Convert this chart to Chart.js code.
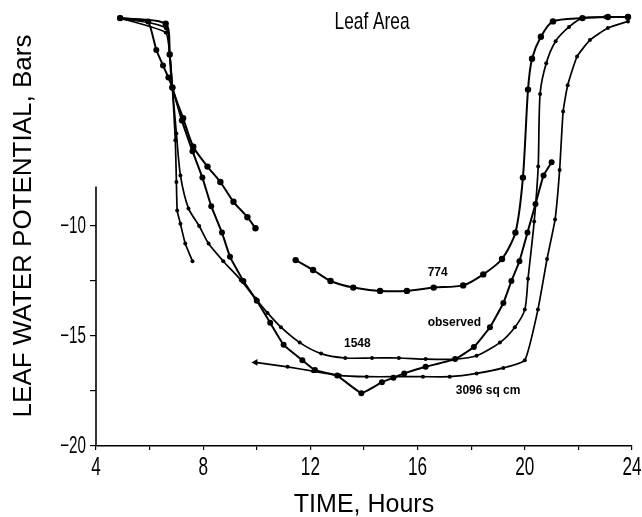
<!DOCTYPE html>
<html>
<head>
<meta charset="utf-8">
<script src="https://cdn.jsdelivr.net/npm/chart.js@4.4.1/dist/chart.umd.min.js"></script>
<style>
  html, body { margin: 0; padding: 0; background: #fff; }
  #wrap { width: 642px; height: 517px; position: relative; }
</style>
</head>
<body>
<div id="wrap"><canvas id="c"></canvas></div>
<script>
// ---- Data ----
const t774 = [4.9, 6.6, 6.75, 6.85, 7.25, 7.63, 8.16, 8.64, 9.13, 9.65, 9.95, 10.7, 11.45, 12.1, 12.75, 13.6, 14.6, 15.6, 16.6, 17.7, 18.45, 19.15, 19.65, 19.93, 20.12, 20.27, 20.6, 21.05, 22.15, 23.1, 23.85];
const v774 = [-0.55, -0.8, -2.2, -3.7, -5.1, -6.4, -7.3, -8.0, -8.9, -9.6, -10.1, null, -11.55, -12.0, -12.5, -12.8, -12.95, -12.95, -12.8, -12.7, -12.2, -11.5, -10.3, -7.8, -3.8, -2.4, -1.4, -0.7, -0.55, -0.5, -0.5];

const t1548 = [4.9, 6.6, 6.75, 6.85, 7.0, 7.15, 7.45, 7.85, 8.2, 8.75, 9.4, 9.95, 10.4, 10.9, 11.6, 12.4, 13.3, 14.3, 15.3, 16.3, 17.4, 18.2, 19.07, 19.63, 20.0, 20.12, 20.35, 20.5, 20.57, 20.8, 21.15, 21.65, 22.15, 23.0, 23.85];
const v1548 = [-0.55, -1.0, -2.2, -3.7, -5.8, -7.7, -9.2, -10.0, -10.8, -11.6, -12.45, -13.3, -13.95, -14.6, -15.3, -15.8, -16.0, -16.0, -16.0, -16.05, -16.05, -15.9, -15.3, -14.6, -13.8, -12.4, -9.8, -7.3, -4.0, -2.6, -1.6, -0.95, -0.55, -0.5, -0.5];

const t3096 = [4.9, 6.6, 6.75, 6.85, 6.96, 7.0, 7.03, 7.15, 7.33, 7.6, 8.5, 9.95, 11.15, 12.1, 13.1, 14.1, 15.1, 16.2, 17.2, 18.2, 19.2, 20.0, 20.49, 20.83, 21.13, 21.3, 21.43, 21.6, 21.95, 22.43, 23.1, 23.85];
const v3096 = [-0.55, -1.2, -2.2, -3.7, -6.1, -8.0, -9.3, -9.9, -10.8, -11.6, null, -16.2, -16.4, -16.6, -16.8, -16.85, -16.85, -16.85, -16.85, -16.7, -16.45, -16.1, -13.8, -11.5, -9.7, -7.45, -4.8, -3.6, -2.3, -1.55, -1.0, -0.7];

const tObs = [4.9, 5.95, 6.25, 6.5, 6.7, 6.85, 7.2, 7.6, 7.97, 8.3, 8.7, 9.0, 9.5, 10.0, 10.5, 11.0, 11.7, 12.17, 13.0, 13.9, 14.67, 15.1, 15.5, 16.3, 17.4, 18.1, 18.7, 19.2, 19.5, 19.8, 20.1, 20.4, 20.7, 21.0];
const vObs = [-0.55, -0.7, -2.0, -2.7, -3.25, -3.7, -5.2, -6.6, -7.8, -9.1, -10.3, -11.4, -12.5, -13.4, -14.4, -15.4, -16.1, -16.55, -16.8, -17.6, -17.1, -16.9, -16.7, -16.4, -16.05, -15.5, -14.6, -13.5, -12.5, -11.6, -10.3, -9.0, -7.7, -7.1];

const X_TICKS = [4, 6, 8, 10, 12, 14, 16, 18, 20, 22, 24];
const X_LABELED = [4, 8, 12, 16, 20, 24];
const Y_TICKS = [-20, -17.5, -15, -12.5, -10];
const Y_LABELED = [-20, -15, -10];
const Y_AXIS_TOP = -8.2;
const ARROW_INDEX_3096 = 11;

const NOTE_TEXT = ["774", "observed", "1548", "3096 sq cm"];
const NOTE_T = [16.75, 17.37, 13.75, 18.63];
const NOTE_V = [-12.1, -14.4, -15.36, -17.5];
const TITLE_TEXT = "Leaf Area";
const TITLE_T = 14.3, TITLE_V = -0.75;

const pts = (ts, vs) => ts.map((t, i) => ({x: t, y: vs[i]}));
const fmtY = v => (v < 0 ? "\u2212" : "") + Math.abs(v);

const SANS = "'Liberation Sans', Arial, sans-serif";

// draws condensed text (the original uses a narrow typeface)
function narrowText(ctx, s, x, y, size, squeeze, align, baseline) {
  ctx.save();
  ctx.translate(x, y);
  ctx.scale(squeeze, 1);
  ctx.font = size + "px " + SANS;
  ctx.textAlign = align;
  ctx.textBaseline = baseline;
  ctx.fillText(s, 0, 0);
  ctx.restore();
}

const overlay = {
  id: 'overlay',
  afterDraw(chart) {
    const {ctx, chartArea} = chart;
    const xs = chart.scales.x, ys = chart.scales.y;
    ctx.save();
    ctx.fillStyle = '#000';
    // partial y axis line
    ctx.strokeStyle = '#000';
    ctx.lineWidth = 1.6;
    ctx.beginPath();
    ctx.moveTo(chartArea.left, ys.getPixelForValue(-20));
    ctx.lineTo(chartArea.left, ys.getPixelForValue(Y_AXIS_TOP));
    ctx.stroke();
    // tick labels (narrow face)
    X_LABELED.forEach(v => {
      narrowText(ctx, String(v), xs.getPixelForValue(v), chartArea.bottom + 9, 26, 0.66, 'center', 'top');
    });
    Y_LABELED.forEach(v => {
      narrowText(ctx, fmtY(v), chartArea.left - 10, ys.getPixelForValue(v) + 1, 23, 0.66, 'right', 'middle');
    });
    // annotations
    ctx.textAlign = 'center';
    ctx.textBaseline = 'middle';
    ctx.font = "bold 12px " + SANS;
    NOTE_TEXT.forEach((s, i) => {
      ctx.fillText(s, xs.getPixelForValue(NOTE_T[i]), ys.getPixelForValue(NOTE_V[i]));
    });
    narrowText(ctx, TITLE_TEXT, xs.getPixelForValue(TITLE_T), ys.getPixelForValue(TITLE_V), 24, 0.72, 'center', 'middle');
    ctx.restore();
  }
};

const lineStyle = (r, w) => ({
  borderColor: '#000', backgroundColor: '#000', pointBackgroundColor: '#000',
  pointBorderColor: '#000', borderWidth: w, pointRadius: r, pointBorderWidth: 0,
  pointHoverRadius: r, spanGaps: false, fill: false
});

const ds3096 = Object.assign(lineStyle(2, 1.7), {
  label: '3096 sq cm', data: pts(t3096, v3096), tension: 0.15,
  pointStyle: c => c.dataIndex === ARROW_INDEX_3096 ? 'triangle' : 'circle',
  pointRotation: c => c.dataIndex === ARROW_INDEX_3096 ? 270 : 0,
  pointRadius: c => c.dataIndex === ARROW_INDEX_3096 ? 4 : 2
});

new Chart(document.getElementById('c'), {
  type: 'line',
  data: {
    datasets: [
      Object.assign(lineStyle(3.2, 2), {label: '774', data: pts(t774, v774), tension: 0.25}),
      Object.assign(lineStyle(2, 1.7), {label: '1548', data: pts(t1548, v1548), tension: 0.25}),
      ds3096,
      Object.assign(lineStyle(3, 2), {label: 'observed', data: pts(tObs, vObs), tension: 0.1})
    ]
  },
  options: {
    responsive: true, maintainAspectRatio: false, animation: false,
    devicePixelRatio: 1,
    layout: {padding: {top: 6, right: 10, left: 0, bottom: 0}},
    plugins: {legend: {display: false}, tooltip: {enabled: false}},
    scales: {
      x: {
        type: 'linear', min: 4, max: 24,
        afterBuildTicks: s => { s.ticks = X_TICKS.map(v => ({value: v})); },
        afterFit: s => { s.height = 71; s.paddingLeft = 0; s.paddingRight = 0; },
        ticks: {display: false, autoSkip: false},
        grid: {display: true, drawOnChartArea: false, drawTicks: true, tickLength: 4, color: '#000', lineWidth: 1.2},
        border: {display: true, color: '#000', width: 1.6},
        title: {display: true, text: 'TIME, Hours', color: '#000',
          font: {family: SANS, size: 25}, padding: {top: 0, bottom: -3}}
      },
      y: {
        type: 'linear', min: -20, max: 0,
        afterBuildTicks: s => { s.ticks = Y_TICKS.map(v => ({value: v})); },
        afterFit: s => { s.width = 96; s.paddingTop = 0; s.paddingBottom = 0; },
        ticks: {display: false, autoSkip: false},
        grid: {display: true, drawOnChartArea: false, drawTicks: true, tickLength: 6, color: '#000', lineWidth: 1.2},
        border: {display: false},
        title: {display: true, text: 'LEAF WATER POTENTIAL, Bars', color: '#000',
          font: {family: SANS, size: 26}, padding: {top: 8, bottom: 0}}
      }
    }
  },
  plugins: [overlay]
});
</script>
</body>
</html>
